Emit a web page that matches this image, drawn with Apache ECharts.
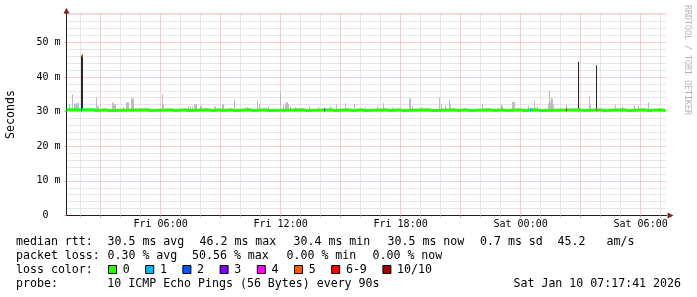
<!DOCTYPE html>
<html>
<head>
<meta charset="utf-8">
<script src="https://cdn.jsdelivr.net/npm/echarts@6/dist/echarts.min.js"></script>
<style>
html,body{margin:0;padding:0;background:#ffffff;}
#c{width:697px;height:297px;}
</style>
</head>
<body>
<div id="c"></div>
<script>
// ---------------- DATA ----------------
const startTime = "Fri 01:17:41";
const endTime = "Sat 07:17:41";

const xTickLabels = ["Fri 06:00", "Fri 12:00", "Fri 18:00", "Sat 00:00", "Sat 06:00"];
const yTickValues = [0, 10, 20, 30, 40, 50];
const yTickLabels = ["0  ", "10 m", "20 m", "30 m", "40 m", "50 m"];
const yMaxValue = 58.3;

// median RTT (ms), step series
const medianTimes = ["Fri 01:18", "Fri 02:39", "Fri 02:48", "Fri 03:15", "Fri 03:24", "Fri 05:21", "Fri 05:33",
  "Fri 06:33", "Fri 06:42", "Fri 07:15", "Fri 07:24", "Fri 08:21", "Fri 08:36", "Fri 08:57", "Fri 09:06",
  "Fri 09:33", "Fri 09:42", "Fri 10:27", "Fri 10:36", "Fri 11:15", "Fri 11:24", "Fri 13:09", "Fri 13:18",
  "Fri 14:33", "Fri 14:42", "Fri 15:21", "Fri 15:39", "Fri 16:03", "Fri 16:15", "Fri 17:15", "Fri 17:30",
  "Fri 17:57", "Fri 18:06", "Fri 19:21", "Fri 19:36", "Fri 20:39", "Fri 20:54", "Fri 21:15", "Fri 21:30",
  "Fri 22:27", "Fri 22:42", "Fri 23:03", "Fri 23:18", "Fri 23:57", "Sat 00:12", "Sat 00:45", "Sat 01:00",
  "Sat 02:57", "Sat 03:12", "Sat 03:57", "Sat 04:12", "Sat 05:09", "Sat 05:24", "Sat 06:09", "Sat 06:24",
  "Sat 06:57", "Sat 07:15"];
const medianValues = [30.5, 30.3, 30.5, 30.3, 30.5, 30.3, 30.5,
  30.3, 30.5, 30.3, 30.5, 30.3, 30.5, 30.3, 30.5,
  30.3, 30.5, 30.3, 30.5, 30.3, 30.5, 30.3, 30.5,
  30.3, 30.5, 30.3, 30.5, 30.3, 30.5, 30.3, 30.5,
  30.3, 30.5, 30.3, 30.5, 30.3, 30.5, 30.3, 30.5,
  30.3, 30.5, 30.3, 30.5, 30.3, 30.5, 30.3, 30.5,
  30.3, 30.5, 30.3, 30.5, 30.3, 30.5, 30.3, 30.5,
  30.3, 30.3];

// smoke (ping spread) tops, ms
const smokeTimes = ["Fri 01:24", "Fri 01:33", "Fri 01:39", "Fri 01:42", "Fri 01:45", "Fri 01:48", "Fri 01:51",
  "Fri 02:45", "Fri 02:48", "Fri 02:51", "Fri 03:33", "Fri 03:36", "Fri 03:39", "Fri 03:42", "Fri 04:06",
  "Fri 04:15", "Fri 04:18", "Fri 04:21", "Fri 04:30", "Fri 04:33", "Fri 04:36", "Fri 06:03", "Fri 06:06",
  "Fri 07:21", "Fri 07:27", "Fri 07:33", "Fri 07:39", "Fri 07:42", "Fri 07:45", "Fri 07:57", "Fri 08:00",
  "Fri 08:39", "Fri 08:42", "Fri 09:03", "Fri 09:06", "Fri 09:39", "Fri 10:12", "Fri 10:18", "Fri 10:24",
  "Fri 10:48", "Fri 10:54", "Fri 11:21", "Fri 11:57", "Fri 12:06", "Fri 12:12", "Fri 12:15", "Fri 12:18",
  "Fri 12:21", "Fri 12:27", "Fri 12:42", "Fri 13:24", "Fri 13:51", "Fri 14:27", "Fri 14:45", "Fri 15:12",
  "Fri 15:39", "Fri 16:12", "Fri 16:48", "Fri 17:06", "Fri 17:33", "Fri 18:24", "Fri 18:27", "Fri 18:33",
  "Fri 19:00", "Fri 19:54", "Fri 20:00", "Fri 20:12", "Fri 20:24", "Fri 20:27", "Fri 22:03", "Fri 23:00",
  "Fri 23:03", "Fri 23:33", "Fri 23:36", "Fri 23:39", "Sat 00:21", "Sat 00:39", "Sat 00:48", "Sat 01:21",
  "Sat 01:24", "Sat 01:27", "Sat 01:30", "Sat 01:33", "Sat 01:36", "Sat 02:15", "Sat 03:24", "Sat 03:27",
  "Sat 04:42", "Sat 05:03", "Sat 05:39", "Sat 05:51", "Sat 06:21"];
const smokeTops = [32.1, 35.0, 32.3, 32.0, 32.5, 32.3, 32.6,
  34.0, 31.5, 31.5, 32.7, 32.4, 32.0, 32.1, 31.4,
  32.7, 32.7, 32.7, 33.8, 33.8, 33.8, 35.0, 32.0,
  31.5, 31.5, 31.5, 32.1, 32.1, 32.1, 31.7, 31.7,
  31.4, 31.4, 32.1, 32.1, 33.5, 31.3, 31.3, 31.2,
  33.0, 32.1, 31.5, 35.5, 32.0, 32.4, 32.7, 32.7,
  32.2, 31.5, 31.3, 31.5, 31.3, 31.5, 32.1, 32.4,
  32.1, 31.3, 31.7, 32.4, 31.2, 33.8, 33.8, 31.5,
  31.3, 34.1, 32.1, 31.7, 33.5, 32.1, 32.1, 32.1,
  31.7, 32.7, 33.0, 32.7, 31.7, 33.0, 31.7, 32.3,
  36.1, 33.0, 33.9, 33.7, 32.0, 32.0, 34.4, 32.0,
  32.0, 31.6, 32.0, 31.8, 32.7];

// dark spikes (high rtt with loss), ms
const spikeTimes = ["Fri 02:00", "Fri 02:03", "Sat 02:51", "Sat 03:45"];
const spikeTops = [46.2, 46.2, 44.4, 43.4];

// loss-coloured median points
const lossTimes = ["Fri 02:00", "Fri 02:03", "Fri 14:09", "Sat 00:27", "Sat 00:30", "Sat 02:15", "Sat 03:45"];
const lossLevels = [2, 5, 3, 1, 1, 6, 4];
const lossValues = [30.5, 46.2, 30.5, 30.5, 30.5, 30.5, 30.5];

const lossLabels = ["0", "1", "2", "3", "4", "5", "6-9", "10/10"];
const lossColors = ["#26ff00", "#00b8ff", "#0059ff", "#7e00ff", "#ff00ff", "#ff5500", "#ff0000", "#a10000"];

const statsMedian = ["median rtt:", "30.5 ms avg", "46.2 ms max", "30.4 ms min", "30.5 ms now", "0.7 ms sd", "45.2", "am/s"];
const statsLoss = ["packet loss:", "0.30 % avg", "50.56 % max", "0.00 % min", "0.00 % now"];
const probeLabel = "probe:";
const probeText = "10 ICMP Echo Pings (56 Bytes) every 90s";
const lossColorLabel = "loss color:";
const dateText = "Sat Jan 10 07:17:41 2026";
const yAxisTitle = "Seconds";
const watermark = "RRDTOOL / TOBI OETIKER";

// ---------------- HELPERS ----------------
const DAY = { Fri: 0, Sat: 1440 };
function tmin(s) {
  const parts = s.split(' ');
  const p = parts[1].split(':').map(Number);
  return DAY[parts[0]] + p[0] * 60 + p[1] + (p[2] || 0) / 60;
}
const xMin = tmin(startTime), xMax = tmin(endTime);
const SLOT = 3; // minutes per pixel column
const MONO = "'DejaVu Sans Mono', monospace";

const labelVals = xTickLabels.map(tmin);
const majorTicks = [], minorTicks = [];
for (let h = Math.ceil(xMin / 60) * 60; h < xMax; h += 60) {
  if (h % 180 === 0) majorTicks.push(h); else minorTicks.push(h);
}

const chart = echarts.init(document.getElementById('c'), null, { renderer: 'canvas' });

function colRect(api, t, topV, baseV, fill) {
  const a = api.coord([t, topV]);
  const b = api.coord([t, baseV]);
  const w = Math.max(1, Math.round(api.size([SLOT, 0])[0]));
  return { type: 'rect', shape: { x: Math.round(a[0]), y: a[1], width: w, height: b[1] - a[1] }, style: { fill: fill } };
}

const option = {
  backgroundColor: '#ffffff',
  animation: false,
  grid: { left: 66.5, right: 30.5, top: 13.5, bottom: 81.5, containLabel: false, outerBoundsMode: 'none' },
  xAxis: [
    { // hourly minor grid
      type: 'value', min: xMin, max: xMax, position: 'bottom',
      axisLine: { show: false }, axisLabel: { show: false },
      axisTick: { show: true, customValues: minorTicks, length: 2, inside: false, lineStyle: { color: '#c8c8c8' } },
      splitLine: { show: true, lineStyle: { color: '#cdcdcd', width: 1, type: [1, 1] } }
    },
    { // main axis: 3-hour major grid + labels
      type: 'value', min: xMin, max: xMax, position: 'bottom',
      axisLine: { show: true, onZero: false, lineStyle: { color: '#1f1f1f', width: 1 } },
      axisTick: { show: true, customValues: majorTicks, length: 2, lineStyle: { color: '#f08080' } },
      axisLabel: {
        show: true, customValues: labelVals, margin: 4,
        fontFamily: MONO, fontSize: 10, color: '#000',
        formatter: v => { const i = labelVals.findIndex(u => Math.abs(u - v) < 0.01); return i >= 0 ? xTickLabels[i] : ''; }
      },
      splitLine: { show: true, lineStyle: { color: '#f2a0a0', width: 1, type: [1, 1] } }
    }
  ],
  yAxis: [
    {
      type: 'value', min: 0, max: yMaxValue, interval: 10,
      name: yAxisTitle, nameLocation: 'middle', nameGap: 50,
      nameTextStyle: { fontFamily: MONO, fontSize: 11.6, color: '#000' },
      axisLine: { show: true, lineStyle: { color: '#1f1f1f', width: 1 } },
      axisTick: { show: true, length: 2, lineStyle: { color: '#f08080' } },
      axisLabel: {
        show: true, margin: 6, fontFamily: MONO, fontSize: 10, color: '#000',
        formatter: v => { const i = yTickValues.indexOf(Math.round(v)); return i >= 0 ? yTickLabels[i] : ''; }
      },
      splitLine: { show: true, lineStyle: { color: '#f2a0a0', width: 1, type: [1, 1] } },
      minorTick: { show: false, splitNumber: 5 },
      minorSplitLine: { show: true, lineStyle: { color: '#cdcdcd', width: 1, type: [1, 1] } }
    }
  ],
  series: [
    {
      name: 'smoke', type: 'custom', xAxisIndex: 1, yAxisIndex: 0, z: 2, clip: true,
      data: smokeTimes.map((s, i) => [tmin(s), smokeTops[i]]),
      encode: { x: 0, y: 1 },
      renderItem: (params, api) => colRect(api, api.value(0), api.value(1), 30.5, '#bdbdbd')
    },
    {
      name: 'spikes', type: 'custom', xAxisIndex: 1, yAxisIndex: 0, z: 3, clip: true,
      data: spikeTimes.map((s, i) => [tmin(s), spikeTops[i]]),
      encode: { x: 0, y: 1 },
      renderItem: (params, api) => colRect(api, api.value(0), api.value(1), 30.5, '#262626')
    },
    {
      name: 'median', type: 'line', xAxisIndex: 1, yAxisIndex: 0, z: 4,
      step: 'end', symbol: 'none', showSymbol: false,
      data: medianTimes.map((s, i) => [tmin(s), medianValues[i]]),
      lineStyle: { color: lossColors[0], width: 3, cap: 'butt' }
    },
    {
      name: 'loss', type: 'custom', xAxisIndex: 1, yAxisIndex: 0, z: 5, clip: true,
      data: lossTimes.map((s, i) => [tmin(s), lossValues[i], lossLevels[i]]),
      encode: { x: 0, y: 1 },
      renderItem: (params, api) => {
        const a = api.coord([api.value(0), api.value(1)]);
        const w = Math.max(1, Math.round(api.size([SLOT, 0])[0]));
        return { type: 'rect', shape: { x: Math.round(a[0]), y: a[1] - 1.5, width: w, height: 3 },
          style: { fill: lossColors[api.value(2)] } };
      }
    }
  ]
};
chart.setOption(option);

// ---------------- GRAPHIC: arrows, legend, watermark ----------------
const g = [];
const pTop = chart.convertToPixel({ xAxisIndex: 1, yAxisIndex: 0 }, [xMin, yMaxValue]);
const pRight = chart.convertToPixel({ xAxisIndex: 1, yAxisIndex: 0 }, [xMax, 0]);
const ax = Math.round(pTop[0] - 0.5) + 0.5;
g.push({ type: 'polygon', z: 10, shape: { points: [[ax - 3, pTop[1]], [ax + 3, pTop[1]], [ax, pTop[1] - 5.5]] }, style: { fill: '#801f1f' } });
const ay = Math.round(pRight[1] - 0.5) + 0.5;
g.push({ type: 'polygon', z: 10, shape: { points: [[pRight[0] + 1, ay - 3], [pRight[0] + 1, ay + 3], [pRight[0] + 7, ay]] }, style: { fill: '#801f1f' } });

function txt(x, y, s, extra) {
  return Object.assign({ type: 'text', x: x, y: y, z: 10,
    style: Object.assign({ text: s, font: '11.6px ' + MONO, fill: '#000', align: 'left', verticalAlign: 'middle' }, extra || {}) });
}
const rowY = [241.5, 255.5, 269.5, 283.5];
const medX = [16, 107.5, 199.5, 293.5, 387.5, 480, 557.5, 606.5];
statsMedian.forEach((s, i) => g.push(txt(medX[i], rowY[0], s)));
const lossX = [16, 107.5, 192, 286.5, 372.5];
statsLoss.forEach((s, i) => g.push(txt(lossX[i], rowY[1], s)));
g.push(txt(16, rowY[2], lossColorLabel));
let bx = 108.5;
lossLabels.forEach((lab, i) => {
  g.push({ type: 'rect', z: 10, shape: { x: bx, y: 265.5, width: 8, height: 8 }, style: { fill: lossColors[i], stroke: '#000', lineWidth: 1 } });
  g.push(txt(bx + 14.2, rowY[2], lab));
  bx = bx + 14.2 + lab.length * 7 + 16;
});
g.push(txt(16, rowY[3], probeLabel));
g.push(txt(107.3, rowY[3], probeText));
g.push(txt(681, rowY[3], dateText, { align: 'right' }));
g.push({ type: 'text', x: 687, y: 5, rotation: -Math.PI / 2, z: 10,
  style: { text: watermark, font: '8.3px ' + MONO, fill: '#b4b4b4', align: 'left', verticalAlign: 'middle' } });

chart.setOption({ graphic: g });
</script>
</body>
</html>
